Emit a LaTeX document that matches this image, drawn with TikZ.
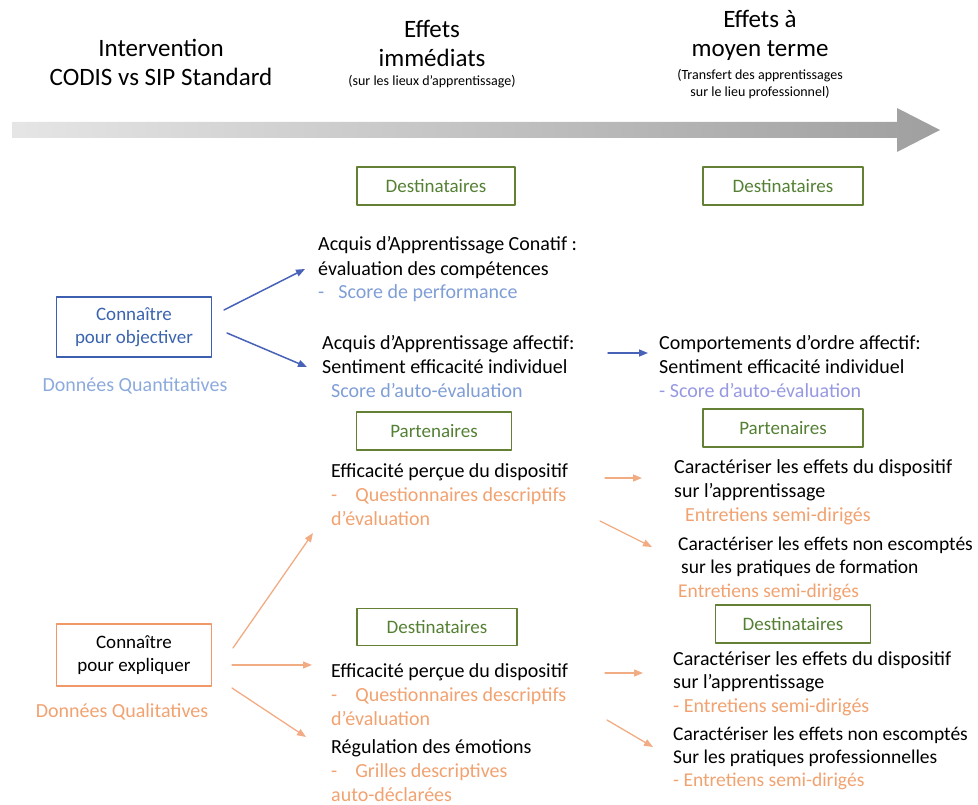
\documentclass[tikz,border=0pt]{standalone}
\usepackage{fontspec}
\setmainfont{Carlito}
\usetikzlibrary{arrows.meta}
\definecolor{gbord}{RGB}{100,128,52}
\definecolor{gtext}{RGB}{84,128,52}
\definecolor{bbord}{RGB}{62,94,176}
\definecolor{btext}{RGB}{58,100,175}
\definecolor{barrow}{RGB}{72,98,184}
\definecolor{lblue}{RGB}{128,158,214}
\definecolor{qblue}{RGB}{140,170,220}
\definecolor{lav}{RGB}{150,152,226}
\definecolor{otext}{RGB}{241,162,112}
\definecolor{obord}{RGB}{240,152,104}
\definecolor{oarrow}{RGB}{242,172,132}
\begin{document}
\begin{tikzpicture}[x=1pt,y=-1pt,line join=round,line cap=round,>={Triangle[length=9pt,width=7pt]},
	ttl/.style={align=center,font=\fontsize{25}{29}\selectfont},
	sub/.style={align=center,font=\fontsize{14}{17}\selectfont},
	txt/.style={anchor=base west,align=left,inner sep=0pt,font=\fontsize{20}{24}\selectfont},
	gbox/.style={draw=gbord,line width=1.3pt,text=gtext,minimum width=158pt,minimum height=38pt,font=\fontsize{19}{22}\selectfont},
	kbox/.style={line width=1.3pt,align=center,minimum width=155pt,minimum height=60pt,font=\fontsize{19}{23}\selectfont},
	barr/.style={->,draw=barrow,fill=barrow,line width=1.5pt},
	oarr/.style={->,draw=oarrow,fill=oarrow,line width=1.3pt}]
	\useasboundingbox (0,0) rectangle (978,805);
	\shade[left color=gray!20,right color=gray!75] (12,122)--(897,122)--(897,108)--(940,130)--(897,152)--(897,138)--(12,138)--cycle;
	\node[ttl] (t1) at (161,62) {Intervention\\CODIS vs SIP Standard};
	\node[ttl] (t2) at (432,43) {Effets\\immédiats};
	\node[sub] (s2) at (432,82) {(sur les lieux d’apprentissage)};
	\node[ttl] (t3) at (760,35) {Effets à\\moyen terme};
	\node[sub] (s3) at (760,84) {(Transfert des apprentissages\\sur le lieu professionnel)};
	\node[gbox] (d1) at (436,186) {Destinataires};
	\node[gbox,minimum width=160pt] (d2) at (783,186) {Destinataires};
	\node[gbox,minimum width=155pt] (p1) at (434,431) {Partenaires};
	\node[gbox,minimum width=160pt] (p2) at (783,428) {Partenaires};
	\node[gbox,minimum width=160pt,minimum height=37pt] (d3) at (437,627) {Destinataires};
	\node[gbox,minimum width=155pt] (d4) at (793,624) {Destinataires};
	\node[kbox,draw=bbord,text=btext] (obj) at (134,327) {Connaître\\pour objectiver};
	\node[kbox,draw=obord,minimum height=62pt] (exp) at (134,655) {Connaître\\pour expliquer};
	\node[font=\fontsize{20}{24}\selectfont,text=qblue] (quant) at (135,386) {Données Quantitatives};
	\node[font=\fontsize{20}{24}\selectfont,text=otext] (qual) at (122,712) {Données Qualitatives};
	\node[txt] (acq1) at (318,299) {Acquis d’Apprentissage Conatif :\\évaluation des compétences\\\textcolor{lblue}{-\hspace{14pt}Score de performance}};
	\node[txt] (acq2) at (322,397) {Acquis d’Apprentissage affectif:\\Sentiment efficacité individuel\\\hspace{9pt}\textcolor{lblue}{Score d’auto-évaluation}};
	\node[txt] (comp) at (659,397) {Comportements d’ordre affectif:\\Sentiment efficacité individuel\\\textcolor{lav}{- Score d’auto-évaluation}};
	\node[txt] (eff1) at (331,525) {Efficacité perçue du dispositif\\\textcolor{otext}{-\hspace{18pt}Questionnaires descriptifs}\\\textcolor{otext}{d’évaluation}};
	\node[txt] (car1) at (674,521) {Caractériser les effets du dispositif\\sur l’apprentissage\\\hspace{11pt}\textcolor{otext}{Entretiens semi-dirigés}};
	\node[txt,font=\fontsize{19.5}{23.5}\selectfont] (car2) at (678,597) {Caractériser les effets non escomptés\\\hspace{3pt}sur les pratiques de formation\\\textcolor{otext}{Entretiens semi-dirigés}};
	\node[txt] (eff2) at (331,725) {Efficacité perçue du dispositif\\\textcolor{otext}{-\hspace{18pt}Questionnaires descriptifs}\\\textcolor{otext}{d’évaluation}};
	\node[txt] (reg) at (331,801) {Régulation des émotions\\\textcolor{otext}{-\hspace{18pt}Grilles descriptives}\\\textcolor{otext}{auto-déclarées}};
	\node[txt,font=\fontsize{20}{23.5}\selectfont] (car3) at (673,712) {Caractériser les effets du dispositif\\sur l’apprentissage\\\textcolor{otext}{- Entretiens semi-dirigés}};
	\node[txt,font=\fontsize{19.5}{23}\selectfont] (car4) at (673,786) {Caractériser les effets non escomptés\\Sur les pratiques professionnelles\\\textcolor{otext}{- Entretiens semi-dirigés}};
	\path 
	(224,310) coordinate (ob1) (305,269) coordinate (acqA)
	(227,333) coordinate (ob2) (307,367) coordinate (acqB)
	(608,353) coordinate (acqR) (648,353) coordinate (compL)
	(605,478) coordinate (effA) (642,478) coordinate (carA)
	(600,521) coordinate (effB) (652,547) coordinate (carB)
	(233,648) coordinate (ex1) (313,533) coordinate (effU)
	(232,665) coordinate (ex2) (312,665) coordinate (effM)
	(232,688) coordinate (ex3) (306,737) coordinate (regL)
	(605,673) coordinate (effC) (643,673) coordinate (carC)
	(607,720) coordinate (effD) (653,747) coordinate (carD)
	;
	\draw[barr] (ob1)--(acqA);
	\draw[barr] (ob2)--(acqB);
	\draw[barr] (acqR)--(compL);
	\draw[oarr] (effA)--(carA);
	\draw[oarr] (effB)--(carB);
	\draw[oarr] (ex1)--(effU);
	\draw[oarr] (ex2)--(effM);
	\draw[oarr] (ex3)--(regL);
	\draw[oarr] (effC)--(carC);
	\draw[oarr] (effD)--(carD);
\end{tikzpicture}
\end{document}
